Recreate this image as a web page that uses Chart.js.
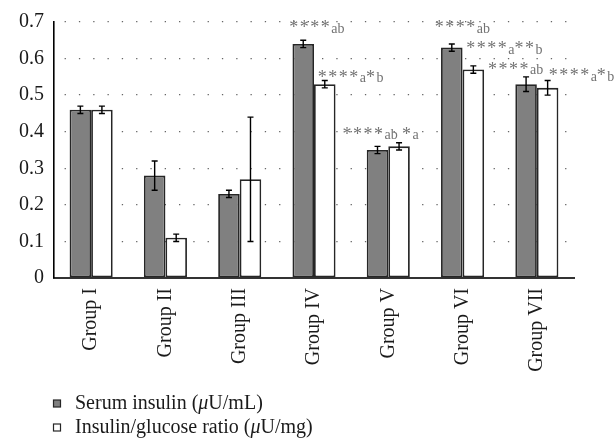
<!DOCTYPE html>
<html>
<head>
<meta charset="utf-8">
<script src="https://cdn.jsdelivr.net/npm/chart.js@4.4.1/dist/chart.umd.min.js"></script>
<style>
    html, body { margin: 0; padding: 0; background: #fff; }
    #wrap { width: 616px; height: 444px; }
</style>
</head>
<body>
<div id="wrap"><canvas id="chart"></canvas></div>
<script>
// Data
const groups = ['Group I', 'Group II', 'Group III', 'Group IV', 'Group V', 'Group VI', 'Group VII'];
const serumInsulin = [0.46, 0.28, 0.23, 0.64, 0.35, 0.63, 0.53];
const serumInsulinErr = [0.01, 0.04, 0.01, 0.01, 0.01, 0.01, 0.02];
const ratio = [0.46, 0.11, 0.27, 0.53, 0.36, 0.57, 0.52];
const ratioErr = [0.01, 0.01, 0.17, 0.01, 0.01, 0.01, 0.02];
const seriesNames = [
    [['Serum insulin (', 0], ['\u03bc', 2], ['U/mL)', 0]],
    [['Insulin/glucose ratio (', 0], ['\u03bc', 2], ['U/mg)', 0]]
];

// Significance marks: group index, series index, text parts (1 = subscript)
const sigGroup = [3, 3, 4, 4, 5, 5, 6, 6];
const sigSeries = [0, 1, 0, 1, 0, 1, 0, 1];
const sigText = [
    [['****', 0], ['ab', 1]],
    [['****', 0], ['a', 1], ['*', 0], ['b', 1]],
    [['****', 0], ['ab', 1]],
    [['*', 0], ['a', 1]],
    [['****', 0], ['ab', 1]],
    [['****', 0], ['a', 1], ['**', 0], ['b', 1]],
    [['****', 0], ['ab', 1]],
    [['****', 0], ['a', 1], ['*', 0], ['b', 1]]
];
// placement of each mark relative to its bar top (px)
const sigOffset = [[-14, -20], [-7, -11], [-35, -20], [3, -16], [-17, -24], [-7, -25], [-38, -19], [1, -16]];

const FONT = "'Liberation Serif', 'Times New Roman', serif";
const COLORS = {
    serum: '#808080',
    ratio: '#ffffff',
    edge: '#262626',
    grid: '#666666',
    text: '#1a1a1a',
    sig: '#737373'
};

// Error bars drawn over the bars
const errorBars = {
    id: 'errorBars',
    afterDatasetsDraw(chart) {
        const ctx = chart.ctx;
        const y = chart.scales.y;
        const errs = [serumInsulinErr, ratioErr];
        ctx.save();
        ctx.strokeStyle = '#000';
        ctx.lineWidth = 1.4;
        chart.data.datasets.forEach((ds, di) => {
            chart.getDatasetMeta(di).data.forEach((bar, i) => {
                const v = ds.data[i], e = errs[di][i];
                const top = y.getPixelForValue(v + e);
                const bot = y.getPixelForValue(v - e);
                ctx.beginPath();
                ctx.moveTo(bar.x, top); ctx.lineTo(bar.x, bot);
                ctx.moveTo(bar.x - 3, top); ctx.lineTo(bar.x + 3, top);
                ctx.moveTo(bar.x - 3, bot); ctx.lineTo(bar.x + 3, bot);
                ctx.stroke();
            });
        });
        ctx.restore();
    }
};

// Significance letters and the two-row legend
const extras = {
    id: 'extras',
    afterDraw(chart) {
        const ctx = chart.ctx;
        ctx.save();
        ctx.fillStyle = COLORS.sig;
        ctx.textAlign = 'left';
        ctx.textBaseline = 'alphabetic';
        sigText.forEach((parts, k) => {
            const bar = chart.getDatasetMeta(sigSeries[k]).data[sigGroup[k]];
            let x = bar.x + sigOffset[k][0];
            const starY = bar.y + sigOffset[k][1];
            parts.forEach(([txt, sub]) => {
                ctx.font = sub ? '14px ' + FONT : '18px ' + FONT;
                ctx.letterSpacing = sub ? '0px' : '1.5px';
                ctx.fillText(txt, x, sub ? starY + 9 : starY + 9.5);
                x += ctx.measureText(txt).width;
            });
        });
        ctx.letterSpacing = '0px';

        // legend
        const fills = [COLORS.serum, COLORS.ratio];
        const rowsY = [404, 428];
        ctx.textBaseline = 'middle';
        seriesNames.forEach((parts, i) => {
            ctx.fillStyle = fills[i];
            ctx.fillRect(53.5, rowsY[i] - 4, 7, 7);
            ctx.strokeStyle = COLORS.edge;
            ctx.lineWidth = 1.2;
            ctx.strokeRect(53.5, rowsY[i] - 4, 7, 7);
            ctx.fillStyle = COLORS.text;
            let x = 75;
            parts.forEach(([txt, style]) => {
                ctx.font = (style === 2 ? 'italic ' : '') + '20px ' + FONT;
                ctx.fillText(txt, x, rowsY[i]);
                x += ctx.measureText(txt).width;
            });
        });
        ctx.restore();
    }
};

const ctx = document.getElementById('chart').getContext('2d');
new Chart(ctx, {
    type: 'bar',
    data: {
        labels: groups,
        datasets: [
            {
                label: 'Serum insulin',
                data: serumInsulin,
                backgroundColor: COLORS.serum,
                borderColor: COLORS.edge,
                borderWidth: 1.8,
                borderSkipped: false
            },
            {
                label: 'Insulin/glucose ratio',
                data: ratio,
                backgroundColor: COLORS.ratio,
                borderColor: COLORS.edge,
                borderWidth: 1.8,
                borderSkipped: false
            }
        ]
    },
    options: {
        responsive: true,
        maintainAspectRatio: false,
        animation: false,
        layout: { padding: { top: 15, right: 42, bottom: 70, left: 0 } },
        datasets: { bar: { categoryPercentage: 0.58, barPercentage: 1 } },
        plugins: {
            legend: { display: false },
            tooltip: { enabled: false }
        },
        scales: {
            x: {
                grid: { display: false, drawTicks: false },
                border: { display: true, color: '#333', width: 2 },
                ticks: {
                    color: COLORS.text,
                    font: { family: FONT, size: 20 },
                    minRotation: 90,
                    maxRotation: 90,
                    autoSkip: false,
                    padding: 10
                },
                afterFit: (scale) => { scale.height = 96; }
            },
            y: {
                min: 0,
                max: 0.7,
                grid: { color: COLORS.grid, lineWidth: 1.3, drawTicks: false },
                border: { display: true, color: '#000', width: 1.6, dash: [1.3, 13], dashOffset: -10 },
                ticks: {
                    stepSize: 0.1,
                    color: COLORS.text,
                    font: { family: FONT, size: 20 },
                    padding: 10,
                    callback: (v) => Number(v.toFixed(1)).toString()
                },
                afterFit: (scale) => { scale.width = 54; }
            }
        }
    },
    plugins: [errorBars, extras]
});
</script>
</body>
</html>
